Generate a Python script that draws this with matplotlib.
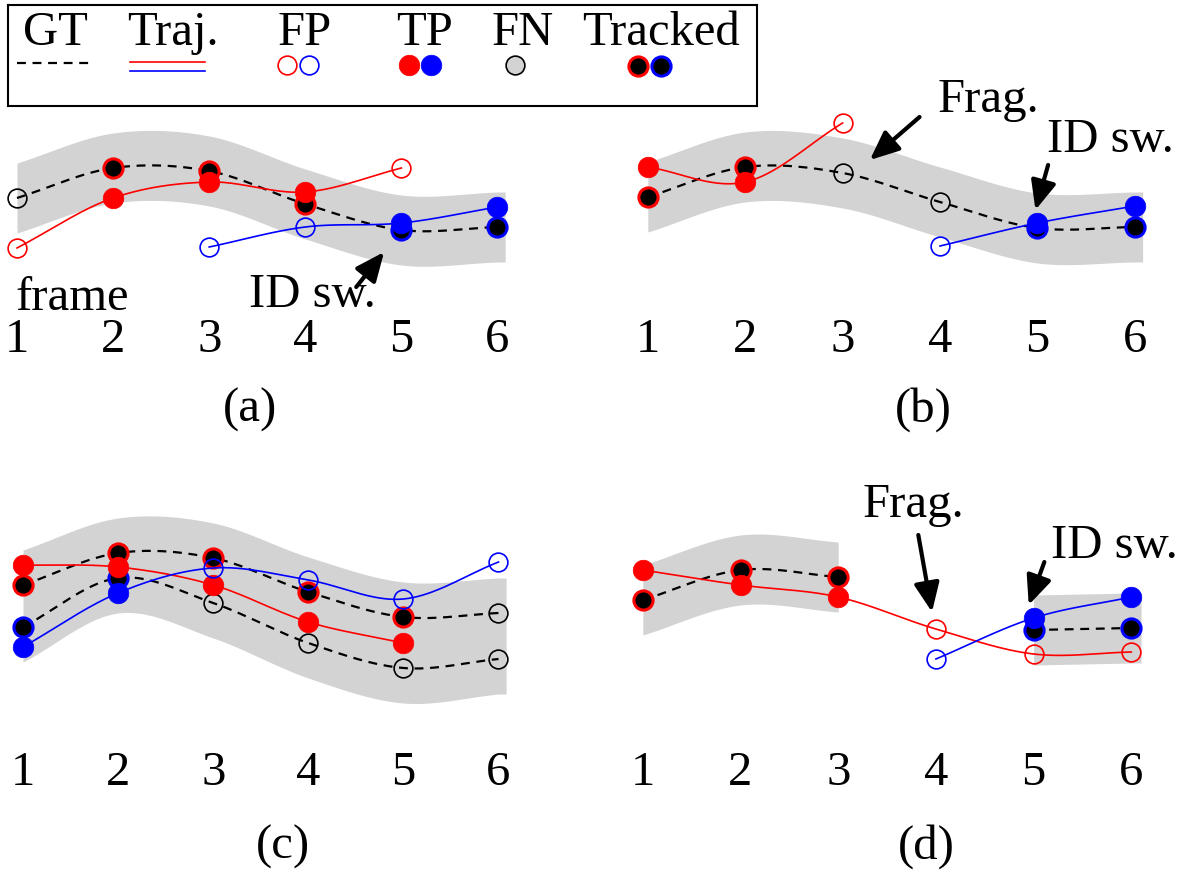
import numpy as np
import matplotlib.pyplot as plt

plt.rcParams['font.family'] = ['Liberation Serif', 'DejaVu Serif']

W, H = 1192, 872
RED, BLUE, BAND = '#ff0000', '#0000ff', '#d3d3d3'
FS = 35

frames = [1, 2, 3, 4, 5, 6]
frame_labels = ['1', '2', '3', '4', '5', '6']

# (a) values are heights in panel units, states: FN / tracked by r or b / TP / FP
a_gt = [10.2, 13.2, 12.9, 9.6, 7.0, 7.3]
a_gt_state = ['FN', 'r', 'r', 'r', 'b', 'b']
a_red_frames = [1, 2, 3, 4, 5]
a_red = [5.2, 10.2, 11.8, 10.8, 13.2]
a_red_state = ['FP', 'TP', 'TP', 'TP', 'FP']
a_blue_frames = [3, 4, 5, 6]
a_blue = [5.3, 7.3, 7.7, 9.3]
a_blue_state = ['FP', 'FP', 'TP', 'TP']

# (b)
b_gt = [10.3, 13.3, 12.7, 9.8, 7.2, 7.3]
b_gt_state = ['r', 'r', 'FN', 'FN', 'b', 'b']
b_red_frames = [1, 2, 3]
b_red = [13.3, 11.8, 17.7]
b_red_state = ['TP', 'TP', 'FP']
b_blue_frames = [4, 5, 6]
b_blue = [5.4, 7.7, 9.4]
b_blue_state = ['FP', 'TP', 'TP']

# (c) two ground truth objects
c_gt1 = [13.5, 16.7, 16.2, 12.8, 10.3, 10.7]
c_gt1_state = ['r', 'r', 'r', 'r', 'r', 'FN']
c_gt2 = [9.3, 14.2, 11.7, 7.7, 5.2, 6.1]
c_gt2_state = ['b', 'b', 'FN', 'FN', 'FN', 'FN']
c_red_frames = [1, 2, 3, 4, 5]
c_red = [15.5, 15.3, 13.5, 9.8, 7.7]
c_red_state = ['TP', 'TP', 'TP', 'TP', 'TP']
c_blue_frames = [1, 2, 3, 4, 5, 6]
c_blue = [7.3, 12.7, 15.2, 14.0, 12.1, 15.8]
c_blue_state = ['TP', 'TP', 'FP', 'FP', 'FP', 'FP']

# (d) ground truth with a gap at frame 4
d_gt_frames1 = [1, 2, 3]
d_gt1 = [12.0, 15.0, 14.3]
d_gt1_state = ['r', 'r', 'r']
d_gt_frames2 = [5, 6]
d_gt2 = [9.0, 9.2]
d_gt2_state = ['b', 'b']
d_red_frames = [1, 2, 3, 4, 5, 6]
d_red = [15.0, 13.5, 12.3, 9.1, 6.6, 6.8]
d_red_state = ['TP', 'TP', 'TP', 'FP', 'FP', 'FP']
d_blue_frames = [4, 5, 6]
d_blue = [6.1, 10.2, 12.3]
d_blue_state = ['FP', 'TP', 'TP']

HALF = 3.5  # half width of the grey gating band


def smooth(xs, ys, n=40):
    p = np.column_stack([xs, ys]).astype(float)
    ext = np.vstack([2 * p[0] - p[1], p, 2 * p[-1] - p[-2]])
    t = np.linspace(0, 1, n, endpoint=False)[:, None]
    out = []
    for i in range(1, len(ext) - 2):
        p0, p1, p2, p3 = ext[i - 1], ext[i], ext[i + 1], ext[i + 2]
        out.append(0.5 * (2 * p1 + (-p0 + p2) * t + (2 * p0 - 5 * p1 + 4 * p2 - p3) * t ** 2
                          + (-p0 + 3 * p1 - 3 * p2 + p3) * t ** 3))
    out.append(p[-1][None])
    out = np.vstack(out)
    return out[:, 0], out[:, 1]


def band(ax, xs, low, high, extend=0.0):
    x, ylo = smooth(xs, low)
    _, yhi = smooth(xs, high)
    if extend:
        x = np.append(x, x[-1] + extend)
        ylo = np.append(ylo, ylo[-1])
        yhi = np.append(yhi, yhi[-1])
    ax.fill_between(x, ylo - HALF, yhi + HALF, color=BAND, lw=0, zorder=1)


def draw_gt(ax, xs, ys, states):
    x, y = smooth(xs, ys)
    ax.plot(x, y, color='k', lw=1.6, dashes=(4, 3), zorder=2)
    for xi, yi, s in zip(xs, ys, states):
        if s == 'FN':
            ax.plot(xi, yi, 'o', ms=13.5, mfc='none', mec='k', mew=1.2, zorder=3)
        else:
            ax.plot(xi, yi, 'o', ms=13.8, mfc='k', mec=RED if s == 'r' else BLUE,
                    mew=2.2, zorder=3)


def draw_traj(ax, xs, ys, states, c):
    x, y = smooth(xs, ys)
    ax.plot(x, y, color=c, lw=1.2, zorder=4)
    for xi, yi, s in zip(xs, ys, states):
        if s == 'TP':
            ax.plot(xi, yi, 'o', ms=14.8, mfc=c, mec=c, mew=0.5, zorder=5)
        else:
            ax.plot(xi, yi, 'o', ms=13.5, mfc='none', mec=c, mew=1.2, zorder=5)


def arrow(ax, tip, tail):
    ax.annotate('', xy=tip, xytext=tail,
                arrowprops=dict(arrowstyle='-|>,head_length=0.8,head_width=0.35',
                                lw=3, color='k', mutation_scale=22,
                                shrinkA=0, shrinkB=0), zorder=6)


def panel(fig, x1, sp, top, bottom, y0):
    left = x1 - 0.5 * sp
    ax = fig.add_axes([left / W, 1 - bottom / H, 6 * sp / W, (bottom - top) / H])
    ax.set_xlim(0.5, 6.5)
    ax.set_ylim((y0 - bottom) / 10, (y0 - top) / 10)
    ax.set_facecolor('none')
    for s in ax.spines.values():
        s.set_visible(False)
    ax.set_yticks([])
    ax.set_xticks(frames, frame_labels, fontsize=FS)
    ax.tick_params(axis='x', length=0, pad=0)
    return ax


fig = plt.figure(figsize=(W / 100, H / 100), dpi=100)

# (a)
ax = panel(fig, 17, 96.1, 80, 318, 300)
band(ax, frames, a_gt, a_gt, extend=0.08)
draw_gt(ax, frames, a_gt, a_gt_state)
draw_traj(ax, a_red_frames, a_red, a_red_state, RED)
draw_traj(ax, a_blue_frames, a_blue, a_blue_state, BLUE)
ax.text(1.58, -1.0, 'frame', fontsize=FS, ha='center', va='baseline')
ax.text(4.07, -0.7, 'ID sw.', fontsize=FS, ha='center', va='baseline')
arrow(ax, (4.82, 4.8), (4.53, 1.3))

# (b)
ax = panel(fig, 647.8, 97.4, 80, 318, 300)
band(ax, frames, b_gt, b_gt, extend=0.08)
draw_gt(ax, frames, b_gt, b_gt_state)
draw_traj(ax, b_red_frames, b_red, b_red_state, RED)
draw_traj(ax, b_blue_frames, b_blue, b_blue_state, BLUE)
ax.text(4.5, 20.0, 'Frag.', fontsize=FS, ha='center', va='center')
arrow(ax, (3.28, 14.0), (3.79, 18.3))
ax.text(5.75, 16.0, 'ID sw.', fontsize=FS, ha='center', va='center')
arrow(ax, (4.98, 9.0), (5.11, 13.5))

# (c)
ax = panel(fig, 23, 95.1, 480, 751, 720)
band(ax, frames, c_gt2, c_gt1, extend=0.08)
draw_gt(ax, frames, c_gt1, c_gt1_state)
draw_gt(ax, frames, c_gt2, c_gt2_state)
draw_traj(ax, c_red_frames, c_red, c_red_state, RED)
draw_traj(ax, c_blue_frames, c_blue, c_blue_state, BLUE)

# (d)
ax = panel(fig, 642.8, 97.7, 480, 751, 720)
band(ax, d_gt_frames1, d_gt1, d_gt1)
band(ax, d_gt_frames2, d_gt2, d_gt2, extend=0.1)
draw_gt(ax, d_gt_frames1, d_gt1, d_gt1_state)
draw_gt(ax, d_gt_frames2, d_gt2, d_gt2_state)
draw_traj(ax, d_red_frames, d_red, d_red_state, RED)
draw_traj(ax, d_blue_frames, d_blue, d_blue_state, BLUE)
ax.text(3.77, 21.5, 'Frag.', fontsize=FS, ha='center', va='center')
arrow(ax, (3.96, 10.8), (3.82, 18.5))
ax.text(5.83, 17.4, 'ID sw.', fontsize=FS, ha='center', va='center')
arrow(ax, (4.95, 11.5), (5.11, 15.8))

# sub-figure captions
for x, y, s in [(250, 410, '(a)'), (923, 410, '(b)'), (283, 847, '(c)'), (926, 847, '(d)')]:
    fig.text(x / W, 1 - y / H, s, fontsize=FS, ha='center', va='center')

# legend box (pixel units inside the box)
lg = fig.add_axes([8 / W, 1 - 106 / H, 749 / W, 101 / H])
lg.set_xlim(0, 749)
lg.set_ylim(101, 0)
lg.set_xticks([])
lg.set_yticks([])
for s in lg.spines.values():
    s.set_linewidth(1.5)
for x, s in [(47, 'GT'), (165, 'Traj.'), (297, 'FP'), (417, 'TP'), (515, 'FN'), (653, 'Tracked')]:
    lg.text(x, 40, s, fontsize=FS, ha='center', va='baseline')
lg.plot([9, 81], [58, 58], color='k', lw=1.6, dashes=(4, 3))
lg.plot([122, 197], [57, 57], color=RED, lw=1.2)
lg.plot([122, 197], [66, 66], color=BLUE, lw=1.2)
lg.plot(279, 60, 'o', ms=13.5, mfc='none', mec=RED, mew=1.2)
lg.plot(301, 60, 'o', ms=13.5, mfc='none', mec=BLUE, mew=1.2)
lg.plot(401, 60, 'o', ms=14.8, mfc=RED, mec=RED, mew=0.5)
lg.plot(423, 60, 'o', ms=14.8, mfc=BLUE, mec=BLUE, mew=0.5)
lg.plot(507, 60, 'o', ms=13.5, mfc=BAND, mec='k', mew=1.2)
lg.plot(630, 61, 'o', ms=13.8, mfc='k', mec=RED, mew=2.2)
lg.plot(653, 61, 'o', ms=13.8, mfc='k', mec=BLUE, mew=2.2)

fig.savefig('out.png', dpi=100)
